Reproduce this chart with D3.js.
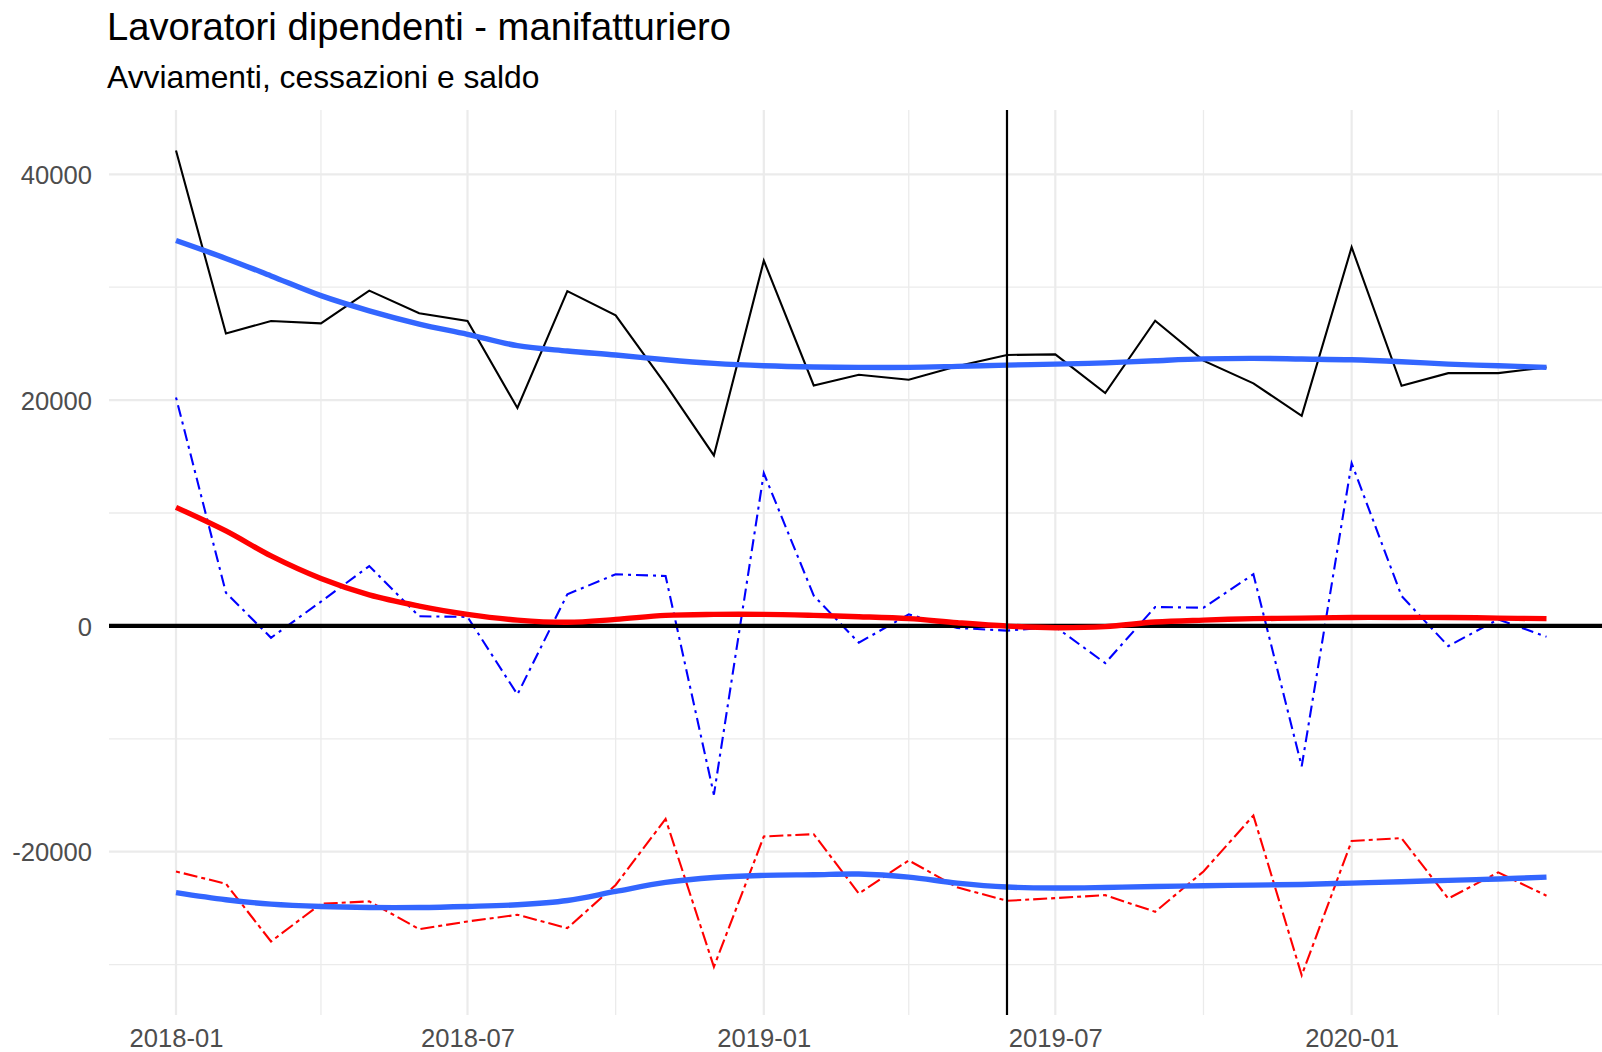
<!DOCTYPE html>
<html>
<head>
<meta charset="utf-8">
<script src="https://cdn.jsdelivr.net/npm/d3@7/dist/d3.min.js"></script>
<style>
  html, body { margin: 0; padding: 0; background: #ffffff; overflow: hidden; }
  svg { display: block; }
  text { font-family: "Liberation Sans", Arial, Helvetica, sans-serif; }
</style>
</head>
<body>
<svg id="chart" width="1602" height="1052"></svg>
<script>
// ---------------- data ----------------
const months = ["2018-01","2018-02","2018-03","2018-04","2018-05","2018-06","2018-07","2018-08","2018-09","2018-10","2018-11","2018-12",
                "2019-01","2019-02","2019-03","2019-04","2019-05","2019-06","2019-07","2019-08","2019-09","2019-10","2019-11","2019-12",
                "2020-01","2020-02","2020-03","2020-04","2020-05"];
const avviamenti = [42100, 25900, 27000, 26800, 29700, 27700, 27000, 19300, 29650, 27500, 21400, 15100,
                    32350, 21300, 22250, 21800, 23000, 24000, 24050, 20620, 27030, 23500, 21480, 18610,
                    33540, 21270, 22390, 22390, 22900];
const cessazioni = [-21750, -22840, -27950, -24610, -24400, -26860, -26180, -25590, -26770, -22950, -17100, -30200,
                    -18650, -18450, -23700, -20770, -23150, -24350, -24110, -23850, -25320, -21750, -16800, -30950,
                    -19050, -18800, -24150, -21830, -23900];
const saldo = [20240, 2940, -1050, 2150, 5300, 850, 800, -6075, 2800, 4570, 4420, -14950,
               13525, 2680, -1490, 1020, -180, -420, -80, -3300, 1670, 1610, 4570, -12435,
               14410, 2645, -1790, 580, -960];
// loess trends
const trendAvviamenti = [34130, 32550, 31000, 29250, 27910, 26740, 25830, 24820, 24350, 23990, 23575, 23250,
                         23040, 22930, 22900, 22900, 22990, 23100, 23190, 23300, 23490, 23650, 23700, 23640,
                         23570, 23400, 23190, 23040, 22900];
const trendCessazioni = [-23630, -24260, -24640, -24850, -24940, -24940, -24850, -24700, -24320, -23520, -22720, -22280,
                         -22100, -22040, -21980, -22250, -22780, -23130, -23220, -23170, -23080, -23015, -22960, -22900,
                         -22780, -22660, -22540, -22420, -22250];
const trendSaldo = [10500, 8410, 6200, 4200, 2750, 1760, 1020, 515, 320, 576, 930, 1020,
                    1020, 930, 816, 640, 283, -20, -160, -60, 340, 515, 640, 690,
                    750, 750, 750, 690, 640];
const yMajorTicks = [-20000, 0, 20000, 40000];
const yMinorTicks = [-30000, -10000, 10000, 30000];
const xMajorTicks = ["2018-01", "2018-07", "2019-01", "2019-07", "2020-01"];
const xMinorTicks = ["2018-04", "2018-10", "2019-04", "2019-10", "2020-04"];
const vlineMonth = "2019-06";
const title = "Lavoratori dipendenti - manifatturiero";
const subtitle = "Avviamenti, cessazioni e saldo";

// ---------------- layout ----------------
const panel = { left: 109, right: 1602, top: 110, bottom: 1015 };
const parse = d3.timeParse("%Y-%m");
const fmt = d3.timeFormat("%Y-%m");
const dates = months.map(parse);

const x = d3.scaleTime().domain([parse("2018-01"), parse("2020-05")]).range([176, 1546.5]);
const y = d3.scaleLinear().domain([-20000, 40000]).range([851.7, 174.3]);

const svg = d3.select("#chart");
svg.append("rect").attr("width", 1602).attr("height", 1052).attr("fill", "#ffffff");

const grid = svg.append("g");
// minor grid
grid.selectAll(".ymin").data(yMinorTicks).enter().append("line")
  .attr("x1", panel.left).attr("x2", panel.right)
  .attr("y1", d => y(d)).attr("y2", d => y(d))
  .attr("stroke", "#EBEBEB").attr("stroke-width", 1.3);
grid.selectAll(".xmin").data(xMinorTicks.map(parse)).enter().append("line")
  .attr("x1", d => x(d)).attr("x2", d => x(d))
  .attr("y1", panel.top).attr("y2", panel.bottom)
  .attr("stroke", "#EBEBEB").attr("stroke-width", 1.3);
// major grid
grid.selectAll(".ymaj").data(yMajorTicks).enter().append("line")
  .attr("x1", panel.left).attr("x2", panel.right)
  .attr("y1", d => y(d)).attr("y2", d => y(d))
  .attr("stroke", "#EBEBEB").attr("stroke-width", 2.2);
grid.selectAll(".xmaj").data(xMajorTicks.map(parse)).enter().append("line")
  .attr("x1", d => x(d)).attr("x2", d => x(d))
  .attr("y1", panel.top).attr("y2", panel.bottom)
  .attr("stroke", "#EBEBEB").attr("stroke-width", 2.2);

// axes (text only, as in theme_minimal)
const yAxis = d3.axisLeft(y).tickValues(yMajorTicks).tickSize(0).tickPadding(0).tickFormat(d => String(d));
const gy = svg.append("g").attr("transform", "translate(92,0)").call(yAxis);
gy.select(".domain").remove();
gy.selectAll("text").attr("font-size", 25.6).attr("fill", "#4D4D4D")
  .attr("font-family", "'Liberation Sans', Arial, Helvetica, sans-serif").attr("dy", "0.36em");

const xAxis = d3.axisBottom(x).tickValues(xMajorTicks.map(parse)).tickSize(0).tickPadding(0).tickFormat(fmt);
const gx = svg.append("g").attr("transform", "translate(0,1029)").call(xAxis);
gx.select(".domain").remove();
gx.selectAll("text").attr("font-size", 25.6).attr("fill", "#4D4D4D")
  .attr("font-family", "'Liberation Sans', Arial, Helvetica, sans-serif").attr("dy", "0.71em");

// ---------------- series ----------------
const plot = svg.append("g");
const rawLine = d3.line().x((d, i) => x(dates[i])).y(d => y(d));
const smoothLine = d3.line().x((d, i) => x(dates[i])).y(d => y(d)).curve(d3.curveCatmullRom.alpha(0.5));

plot.append("path").datum(avviamenti).attr("d", rawLine)
  .attr("fill", "none").attr("stroke", "#000000").attr("stroke-width", 2.1).attr("stroke-linejoin", "miter");
plot.append("path").datum(cessazioni).attr("d", rawLine)
  .attr("fill", "none").attr("stroke", "#FF0000").attr("stroke-width", 2.1)
  .attr("stroke-dasharray", "4,4,14,4");
plot.append("path").datum(saldo).attr("d", rawLine)
  .attr("fill", "none").attr("stroke", "#0000FF").attr("stroke-width", 2.1)
  .attr("stroke-dasharray", "3,5,12,5");

// reference lines
plot.append("line")
  .attr("x1", panel.left).attr("x2", panel.right)
  .attr("y1", y(0)).attr("y2", y(0))
  .attr("stroke", "#000000").attr("stroke-width", 4.2);

plot.append("path").datum(trendAvviamenti).attr("d", smoothLine)
  .attr("fill", "none").attr("stroke", "#3366FF").attr("stroke-width", 5.4).attr("stroke-linecap", "butt");
plot.append("path").datum(trendCessazioni).attr("d", smoothLine)
  .attr("fill", "none").attr("stroke", "#3366FF").attr("stroke-width", 5.4).attr("stroke-linecap", "butt");
plot.append("path").datum(trendSaldo).attr("d", smoothLine)
  .attr("fill", "none").attr("stroke", "#FF0000").attr("stroke-width", 5.4).attr("stroke-linecap", "butt");

plot.append("line")
  .attr("x1", x(parse(vlineMonth))).attr("x2", x(parse(vlineMonth)))
  .attr("y1", panel.top).attr("y2", panel.bottom)
  .attr("stroke", "#000000").attr("stroke-width", 2.2);

// ---------------- titles ----------------
svg.append("text").attr("x", 107).attr("y", 40)
  .attr("font-size", 38.2).attr("fill", "#000000").text(title);
svg.append("text").attr("x", 107).attr("y", 88)
  .attr("font-size", 31.8).attr("fill", "#000000").text(subtitle);
</script>
</body>
</html>
